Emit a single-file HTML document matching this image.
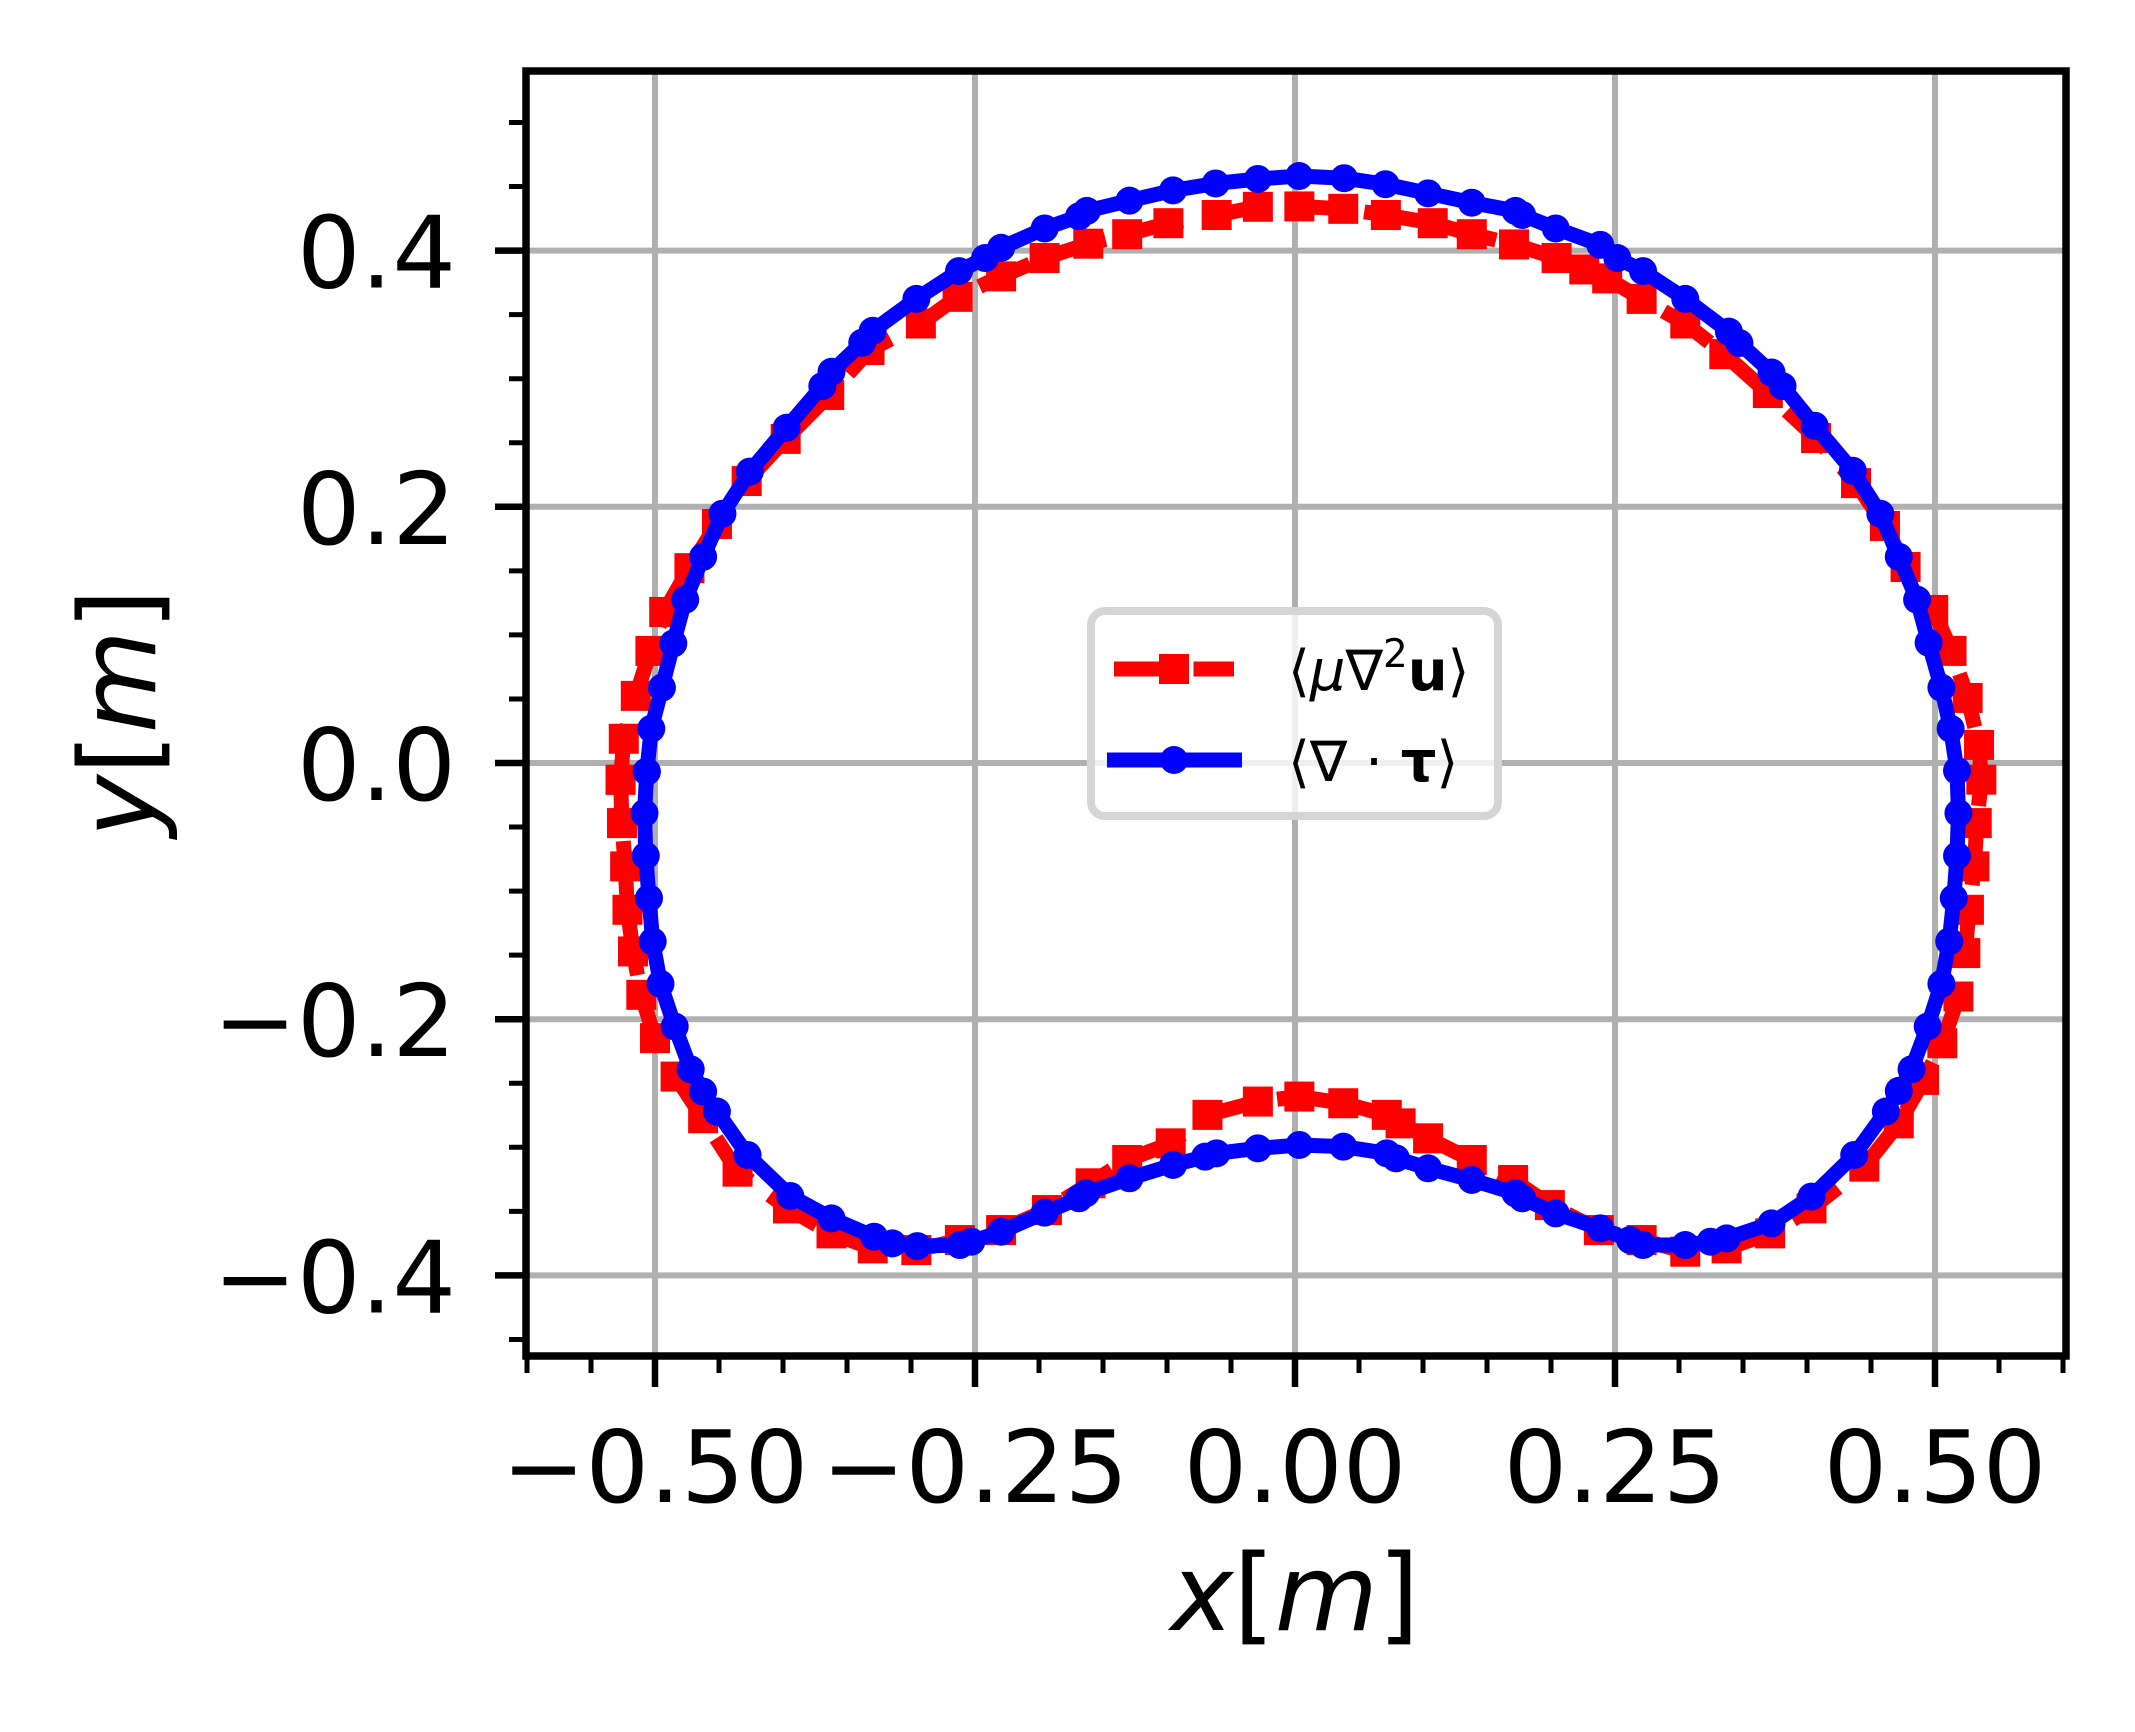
<!DOCTYPE html>
<html><head><meta charset="utf-8"><style>
html,body{margin:0;padding:0;background:#fff;}
svg{display:block;}
text{font-family:"DejaVu Sans","Liberation Sans",sans-serif;}
</style></head>
<body>
<svg id="chart" xmlns="http://www.w3.org/2000/svg" width="2135" height="1732" viewBox="0 0 2135 1732">
<defs><clipPath id="clip"><rect x="526" y="71" width="1540" height="1285"/></clipPath></defs>
<g id="grid"></g>
<g id="series" clip-path="url(#clip)"></g>
<g id="axes"></g>
<g id="legend">
  <rect x="1091" y="611" width="407" height="205" rx="14" fill="rgba(255,255,255,0.8)" stroke="#d5d5d5" stroke-width="8"/>
  <g>
    <line x1="1114" y1="669" x2="1234" y2="669" stroke="#ff0000" stroke-width="15" stroke-dasharray="55.5 24"/>
    <rect x="1159" y="654" width="30" height="30" fill="#ff0000"/>
    <text x="1288" y="690" font-size="56">⟨<tspan font-style="italic">μ</tspan>∇<tspan font-size="39" dy="-23">2</tspan><tspan dy="23" font-weight="bold">u</tspan>⟩</text>
  </g>
  <g>
    <line x1="1107" y1="760" x2="1242" y2="760" stroke="#0000ff" stroke-width="15"/>
    <circle cx="1174" cy="760" r="14" fill="#0000ff"/>
    <text x="1288" y="781" font-size="56">⟨∇ · <tspan font-weight="bold">τ</tspan>⟩</text>
  </g>
</g>
<text x="1295" y="1630" font-size="106" text-anchor="middle"><tspan font-style="italic">x</tspan>[<tspan font-style="italic">m</tspan>]</text>
<text transform="translate(155,713) rotate(-90)" font-size="106" text-anchor="middle"><tspan font-style="italic">y</tspan>[<tspan font-style="italic">m</tspan>]</text>
</svg>
<script>
const redX = [-0.5269,-0.5244,-0.5150,-0.5036,-0.4928,-0.4731,-0.4516,-0.4284,-0.3979,-0.3639,-0.3324,-0.2923,-0.2636,-0.2296,-0.1956,-0.1615,-0.1311,-0.0989,-0.0612,-0.0290,0.0034,
 0.0377,0.0710,0.1076,0.1381,0.1711,0.2044,0.2260,0.2439,0.2708,0.3049,0.3354,0.3694,0.4071,0.4383,0.4609,0.4770,0.4986,0.5129,0.5255,0.5344,
 0.5362,0.5326,0.5308,0.5265,0.5237,0.5183,0.5057,0.4914,0.4717,0.4448,0.4035,0.3712,0.3372,0.3049,0.2708,0.2374,0.1991,0.1704,0.1381,0.1040,0.0825,0.0717,0.0377,0.0034,
 -0.0290,-0.0684,-0.0971,-0.1311,-0.1597,-0.1938,-0.2296,-0.2618,-0.2958,-0.3299,-0.3621,-0.3961,-0.4355,-0.4624,-0.4839,-0.5000,-0.5107,-0.5172,-0.5215,-0.5233,-0.5258,-0.5269];
const redY = [-0.0131,0.0189,0.0524,0.0875,0.1179,0.1521,0.1866,0.2201,0.2530,0.2873,0.3224,0.3431,0.3639,0.3799,0.3942,0.4054,0.4128,0.4214,0.4278,0.4342,0.4345,
 0.4326,0.4278,0.4214,0.4128,0.4048,0.3942,0.3853,0.3783,0.3623,0.3431,0.3192,0.2888,0.2537,0.2185,0.1850,0.1530,0.1195,0.0875,0.0508,0.0141,
 -0.0130,-0.0469,-0.0807,-0.1146,-0.1484,-0.1823,-0.2188,-0.2474,-0.2813,-0.3151,-0.3477,-0.3672,-0.3789,-0.3815,-0.3724,-0.3646,-0.3451,-0.3255,-0.3099,-0.2930,-0.2813,-0.2747,-0.2656,-0.2604,
 -0.2643,-0.2747,-0.2969,-0.3099,-0.3281,-0.3490,-0.3646,-0.3724,-0.3802,-0.3789,-0.3672,-0.3477,-0.3190,-0.2773,-0.2448,-0.2148,-0.1810,-0.1471,-0.1146,-0.0807,-0.0469,-0.0131];
const blueX = [-0.5064,-0.5029,-0.4946,-0.4857,-0.4764,-0.4624,-0.4473,-0.4259,-0.3972,-0.3693,-0.3621,-0.3381,-0.3299,-0.2958,-0.2625,-0.2421,-0.2296,-0.1956,-0.1687,-0.1626,-0.1293,-0.0953,-0.0620,-0.0290,0.0032,
 0.0384,0.0707,0.1040,0.1381,0.1722,0.1775,0.2037,0.2385,0.2518,0.2719,0.3049,0.3390,0.3472,0.3723,0.3809,0.4060,0.4358,0.4573,0.4717,0.4860,0.4950,0.5050,0.5122,0.5172,
 0.5183,0.5172,0.5147,0.5111,0.5050,0.4943,0.4817,0.4717,0.4616,0.4369,0.4035,0.3723,0.3372,0.3246,0.3049,0.2719,0.2618,0.2385,0.2037,0.1775,0.1722,0.1381,0.1040,0.0789,0.0717,0.0377,0.0034,
 -0.0290,-0.0613,-0.0702,-0.0953,-0.1293,-0.1633,-0.1687,-0.1956,-0.2296,-0.2529,-0.2618,-0.2951,-0.3145,-0.3288,-0.3621,-0.3943,-0.4277,-0.4516,-0.4624,-0.4721,-0.4846,-0.4957,-0.5018,-0.5047,-0.5072,-0.5082,-0.5064];
const blueY = [-0.0067,0.0268,0.0588,0.0933,0.1275,0.1610,0.1946,0.2275,0.2617,0.2942,0.3054,0.3281,0.3374,0.3623,0.3840,0.3942,0.4022,0.4173,0.4268,0.4310,0.4390,0.4470,0.4524,0.4559,0.4582,
 0.4565,0.4518,0.4447,0.4374,0.4310,0.4278,0.4173,0.4045,0.3942,0.3840,0.3623,0.3367,0.3278,0.3048,0.2942,0.2633,0.2281,0.1946,0.1610,0.1275,0.0939,0.0588,0.0268,-0.0060,
 -0.0391,-0.0724,-0.1055,-0.1393,-0.1724,-0.2057,-0.2391,-0.2560,-0.2721,-0.3060,-0.3385,-0.3594,-0.3711,-0.3737,-0.3763,-0.3763,-0.3724,-0.3633,-0.3516,-0.3398,-0.3359,-0.3255,-0.3164,-0.3086,-0.3047,-0.2995,-0.2982,
 -0.3008,-0.3047,-0.3073,-0.3138,-0.3242,-0.3359,-0.3398,-0.3510,-0.3659,-0.3737,-0.3763,-0.3771,-0.3750,-0.3698,-0.3555,-0.3380,-0.3060,-0.2721,-0.2565,-0.2391,-0.2057,-0.1724,-0.1393,-0.1055,-0.0724,-0.0391,-0.0067];
const xMajor = [-0.5,-0.25,0,0.25,0.5];
const xMajorLabels = ["−0.50","−0.25","0.00","0.25","0.50"];
const yMajor = [-0.4,-0.2,0,0.2,0.4];
const yMajorLabels = ["−0.4","−0.2","0.0","0.2","0.4"];
const xMinor = [-0.6,-0.55,-0.45,-0.4,-0.35,-0.3,-0.2,-0.15,-0.1,-0.05,0.05,0.1,0.15,0.2,0.3,0.35,0.4,0.45,0.55,0.6];
const yMinor = [-0.45,-0.35,-0.3,-0.25,-0.15,-0.1,-0.05,0.05,0.1,0.15,0.25,0.3,0.35,0.45,0.5];

const NS = "http://www.w3.org/2000/svg";
const L = 526, R = 2066, T = 71, B = 1356;
function X(v){ return 1295 + v*1280; }
function Y(v){ return 763 - v*1281; }
function mk(tag, attrs, parent){
  const e = document.createElementNS(NS, tag);
  for (const k in attrs) e.setAttribute(k, attrs[k]);
  parent.appendChild(e);
  return e;
}
const grid = document.getElementById('grid');
const axes = document.getElementById('axes');
const series = document.getElementById('series');

xMajor.forEach((v,i)=>{
  const g = mk('line',{x1:X(v),x2:X(v),y1:T,y2:B,stroke:'#b0b0b0','stroke-width':6},grid);
  
  
  const t = mk('line',{x1:X(v),x2:X(v),y1:B,y2:B+31,stroke:'#000','stroke-width':6.5},axes);
  
  
  const lb = mk('text',{x:X(v),y:1502,'font-size':100,'text-anchor':'middle'},axes);
  lb.textContent = xMajorLabels[i];
  
  
});
yMajor.forEach((v,i)=>{
  const g = mk('line',{x1:L,x2:R,y1:Y(v),y2:Y(v),stroke:'#b0b0b0','stroke-width':6},grid);
  
  
  const t = mk('line',{x1:L-31,x2:L,y1:Y(v),y2:Y(v),stroke:'#000','stroke-width':6.5},axes);
  
  
  const lb = mk('text',{x:456,y:Y(v)+37,'font-size':100,'text-anchor':'end'},axes);
  lb.textContent = yMajorLabels[i];
  
  
});
xMinor.forEach(v=>{
  const t = mk('line',{x1:X(v),x2:X(v),y1:B,y2:B+17,stroke:'#000','stroke-width':5},axes);
  
  
});
yMinor.forEach(v=>{
  const t = mk('line',{x1:L-17,x2:L,y1:Y(v),y2:Y(v),stroke:'#000','stroke-width':5},axes);
  
  
});
const frame = mk('rect',{x:L,y:T,width:R-L,height:B-T,fill:'none',stroke:'#000','stroke-width':7.5},axes);



const rpts = redX.map((v,i)=>X(v)+','+Y(redY[i])).join(' ');
const rl = mk('polyline',{points:rpts,fill:'none',stroke:'#ff0000','stroke-width':15,'stroke-dasharray':'55.5 24'},series);


redX.forEach((v,i)=>{
  const m = mk('rect',{x:X(v)-15,y:Y(redY[i])-15,width:30,height:30,fill:'#ff0000'},series);
  
  
});
const bpts = blueX.map((v,i)=>X(v)+','+Y(blueY[i])).join(' ');
const bl = mk('polyline',{points:bpts,fill:'none',stroke:'#0000ff','stroke-width':15,'stroke-linejoin':'round'},series);


blueX.forEach((v,i)=>{
  const m = mk('circle',{cx:X(v),cy:Y(blueY[i]),r:14,fill:'#0000ff'},series);
  
  
});
</script>
</body></html>
